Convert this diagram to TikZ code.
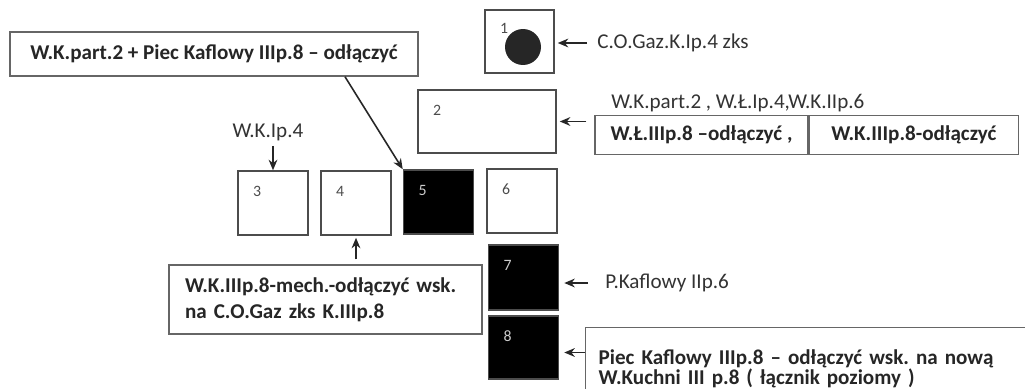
\documentclass[tikz,border=0pt]{standalone}
\usepackage{fontspec}
\setmainfont{Carlito}
\usetikzlibrary{arrows.meta, calc}
\frenchspacing

\begin{document}
\begin{tikzpicture}[x=0.02cm, y=-0.02cm,
		room/.style={draw=black!70, line width=0.9pt, fill=white, inner sep=0, minimum width=1.4cm, minimum height=1.28cm},
		stove/.style={room, fill=black},
		num/.style={font=\fontsize{9}{10}\selectfont, text=black!70, inner sep=0},
		numw/.style={num, text=white!80!black},
		note/.style={font=\fontsize{12}{14}\selectfont, text=black!80, inner sep=0},
		notebox/.style={draw=black!60, line width=0.8pt, fill=white, font=\fontsize{12}{14}\selectfont\bfseries, text=black!85},
		arr/.style={-{Stealth[length=6pt, width=5pt]}, line width=0.9pt, black!85}]
		% Frame
		\clip (0,0) rectangle (1025,389);
		\fill[white] (0,0) rectangle (1025,389);

		% Rooms
		\node[room, minimum width=1.38cm, minimum height=1.26cm] (r1) at (519.5,41.5) {};
		\node[circle, fill=black!85, minimum size=0.72cm, inner sep=0] (pipe) at (523,47) {};
		\node[room, minimum width=2.76cm, minimum height=1.26cm] (r2) at (487,121.5) {};
		\node[room] (r3) at (273,203) {};
		\node[room] (r4) at (356,203) {};
		\node[stove] (r5) at (438.5,202) {};
		\node[room] (r6) at (522,201) {};
		\node[stove, minimum height=1.3cm] (r7) at (523.5,277.5) {};
		\node[stove, minimum height=1.26cm] (r8) at (523.5,347.5) {};

		% Numbers
		\node[num] (n1) at ([shift={(20,19)}]r1.north west) {1};
		\foreach \i in {2,3,4,6}
			\node[num] (n\i) at ([shift={(20,21)}]r\i.north west) {\i};
		\foreach \i in {5,7,8}
			\node[numw] (n\i) at ([shift={(20,21)}]r\i.north west) {\i};

		% Top notes
		\node[notebox, minimum width=8.16cm, minimum height=0.88cm] (tl) at (214,54) {W.K.part.2 + Piec Kaflowy IIIp.8 – odłączyć};
		\draw[arr] ([xshift=2.62cm]tl.south) -- (r5.north west);

		\node[note, anchor=west] (c1) at (597,43) {C.O.Gaz.K.Ip.4 zks};
		\draw[arr, shorten >=0.06cm] ([xshift=-0.2cm]c1.west) -- (c1.west -| r1.east);

		\node[note, anchor=west] (c2) at (611,103) {W.K.part.2 , W.Ł.Ip.4,W.K.IIp.6};
		\node[notebox, minimum width=4.26cm, minimum height=0.78cm] (ca) at (701.5,135) {W.Ł.IIIp.8 –odłączyć ,};
		\node[notebox, minimum width=4.18cm, minimum height=0.78cm, anchor=west] (cb) at (ca.east) {W.K.IIIp.8-odłączyć};
		\draw[arr, shorten >=0.06cm] ([xshift=-0.16cm]ca.west |- r2.east) -- (r2.east);

		\node[note] (c3) at (268,132) {W.K.Ip.4};
		\draw[arr, shorten <=0.1cm] (c3.south -| r3.north) -- (r3.north);

		% Bottom notes
		\node[notebox, inner xsep=0.32cm, text width=5.62cm, minimum height=1.38cm, align=left, font=\fontsize{12}{14.7}\selectfont\bfseries] (bl) at (325.5,299.5) {W.K.IIIp.8-mech.-odłączyć wsk.\\na C.O.Gaz zks K.IIIp.8};
		\draw[arr, shorten <=0.1cm, shorten >=0.04cm] (r4.south |- bl.north) -- (r4.south);

		\node[note, anchor=west] (c7) at (605,283) {P.Kaflowy IIp.6};
		\draw[arr, shorten >=0.1cm] ([xshift=-0.34cm]c7.west) -- (c7.west -| r7.east);

		\node[notebox, anchor=north west, inner xsep=0.26cm, inner ysep=0.44cm, text width=8.4cm, align=left, font=\fontsize{12}{11.6}\selectfont\bfseries] (br) at (585,327) {Piec Kaflowy IIIp.8 – odłączyć wsk. na nową\\W.Kuchni III p.8 ( łącznik poziomy )};
		\draw[arr, shorten >=0.1cm] ([yshift=-0.1cm]br.west |- r8.east) -- ([yshift=-0.1cm]r8.east);
	\end{tikzpicture}
\end{document}
